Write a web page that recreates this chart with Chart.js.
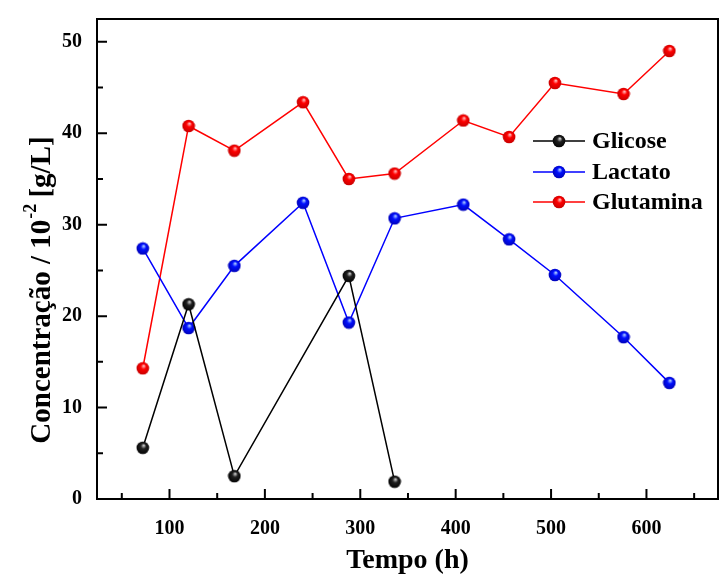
<!DOCTYPE html>
<html>
<head>
<meta charset="utf-8">
<script src="https://cdn.jsdelivr.net/npm/chart.js@4.4.0/dist/chart.umd.min.js"></script>
<style>
  body { margin: 0; background: #fff; }
  canvas { display: block; }
</style>
</head>
<body>
<canvas id="myChart" width="725" height="576"></canvas>
<script>
// dados
const tempoGlicose = [72, 120, 168, 288, 336]
const glicose = [5.6, 21.3, 2.5, 24.4, 1.9]
const tempo = [72, 120, 168, 240, 288, 336, 408, 456, 504, 576, 624]
const lactato = [27.4, 18.7, 25.5, 32.4, 19.3, 30.7, 32.2, 28.4, 24.5, 17.7, 12.7]
const glutamina = [14.3, 40.8, 38.1, 43.4, 35.0, 35.6, 41.4, 39.6, 45.5, 44.3, 49.0]
const nomes = ["Glicose", "Lactato", "Glutamina"]
const xTicks = [100, 200, 300, 400, 500, 600]
const xMinor = [50, 150, 250, 350, 450, 550, 650]
const yTicks = [0, 10, 20, 30, 40, 50]
const yMinor = [5, 15, 25, 35, 45]

const FONT = '"Liberation Serif", "Times New Roman", serif'

// bolinha com brilho
function sphere(color, light, dark) {
  const c = document.createElement("canvas")
  c.width = 14
  c.height = 14
  const g = c.getContext("2d")
  const grad = g.createRadialGradient(8, 4.5, 0.3, 7, 7, 7)
  grad.addColorStop(0, light)
  grad.addColorStop(0.35, color)
  grad.addColorStop(1, dark)
  g.fillStyle = grad
  g.beginPath()
  g.arc(7, 7, 6.3, 0, Math.PI * 2)
  g.fill()
  return c
}
const dotBlack = sphere("#202020", "#d0d0d0", "#000000")
const dotBlue = sphere("#0010ff", "#b0d0ff", "#0000b0")
const dotRed = sphere("#ff0000", "#ffc0c0", "#c00000")

function pts(xs, ys) {
  return xs.map((x, i) => ({ x: x, y: ys[i] }))
}

const moldura = {
  id: "moldura",
  afterDraw(chart) {
    const ctx = chart.ctx
    const a = chart.chartArea
    const sx = chart.scales.x
    const sy = chart.scales.y
    ctx.save()
    ctx.strokeStyle = "#000"
    ctx.lineWidth = 2
    ctx.strokeRect(a.left, a.top, a.right - a.left, a.bottom - a.top)
    ctx.beginPath()
    xTicks.forEach(v => { const p = sx.getPixelForValue(v); ctx.moveTo(p, a.bottom); ctx.lineTo(p, a.bottom - 10) })
    xMinor.forEach(v => { const p = sx.getPixelForValue(v); ctx.moveTo(p, a.bottom); ctx.lineTo(p, a.bottom - 6) })
    yTicks.forEach(v => { const p = sy.getPixelForValue(v); ctx.moveTo(a.left, p); ctx.lineTo(a.left + 10, p) })
    yMinor.forEach(v => { const p = sy.getPixelForValue(v); ctx.moveTo(a.left, p); ctx.lineTo(a.left + 6, p) })
    ctx.stroke()

    // legenda
    const dots = [dotBlack, dotBlue, dotRed]
    const rowY = [141, 172, 202]
    chart.data.datasets.forEach((ds, i) => {
      ctx.strokeStyle = ds.borderColor
      ctx.lineWidth = 1.5
      ctx.beginPath()
      ctx.moveTo(533, rowY[i])
      ctx.lineTo(585, rowY[i])
      ctx.stroke()
      ctx.drawImage(dots[i], 559 - 7, rowY[i] - 7)
      ctx.fillStyle = "#000"
      ctx.font = "bold 24px " + FONT
      ctx.textBaseline = "middle"
      ctx.textAlign = "left"
      ctx.fillText(nomes[i], 592, rowY[i] + 1)
    })

    // titulo do eixo x
    ctx.font = "bold 28px " + FONT
    ctx.textAlign = "center"
    ctx.textBaseline = "alphabetic"
    ctx.fillText("Tempo (h)", (a.left + a.right) / 2, 568)

    // titulo do eixo y com expoente
    const t1 = "Concentração / 10"
    const t2 = "-2"
    const t3 = " [g/L]"
    ctx.font = "bold 29px " + FONT
    const w1 = ctx.measureText(t1).width
    const w3 = ctx.measureText(t3).width
    ctx.font = "bold 18px " + FONT
    const w2 = ctx.measureText(t2).width
    const total = w1 + w2 + w3
    ctx.translate(50, 290)
    ctx.rotate(-Math.PI / 2)
    ctx.textAlign = "left"
    let x0 = -total / 2
    ctx.font = "bold 29px " + FONT
    ctx.fillText(t1, x0, 0)
    ctx.font = "bold 18px " + FONT
    ctx.fillText(t2, x0 + w1 + 1, -14)
    ctx.font = "bold 29px " + FONT
    ctx.fillText(t3, x0 + w1 + w2, 0)
    ctx.restore()
  }
}

const ctx = document.getElementById("myChart").getContext("2d")
const myChart = new Chart(ctx, {
  type: "line",
  data: {
    datasets: [{
      label: nomes[0],
      data: pts(tempoGlicose, glicose),
      borderColor: "#000000",
      borderWidth: 1.5,
      pointStyle: dotBlack,
      tension: 0
    }, {
      label: nomes[1],
      data: pts(tempo, lactato),
      borderColor: "#0000ff",
      borderWidth: 1.5,
      pointStyle: dotBlue,
      tension: 0
    }, {
      label: nomes[2],
      data: pts(tempo, glutamina),
      borderColor: "#ff0000",
      borderWidth: 1.5,
      pointStyle: dotRed,
      tension: 0
    }]
  },
  options: {
    responsive: false,
    animation: false,
    devicePixelRatio: 1,
    layout: { padding: { top: 19, right: 7, left: 0, bottom: 0 } },
    plugins: { legend: { display: false }, tooltip: { enabled: false } },
    scales: {
      x: {
        type: "linear",
        min: 24,
        max: 675,
        grid: { display: false },
        border: { display: false },
        afterBuildTicks: s => { s.ticks = xTicks.map(v => ({ value: v })) },
        afterFit: s => { s.height = 77 },
        ticks: { color: "#000", padding: 10, maxRotation: 0, font: { family: FONT, size: 20, weight: "bold" } }
      },
      y: {
        min: 0,
        max: 52.5,
        grid: { display: false },
        border: { display: false },
        afterBuildTicks: s => { s.ticks = yTicks.map(v => ({ value: v })) },
        afterFit: s => { s.width = 97 },
        ticks: { color: "#000", padding: 7, font: { family: FONT, size: 20, weight: "bold" } }
      }
    }
  },
  plugins: [moldura]
})
</script>
</body>
</html>
